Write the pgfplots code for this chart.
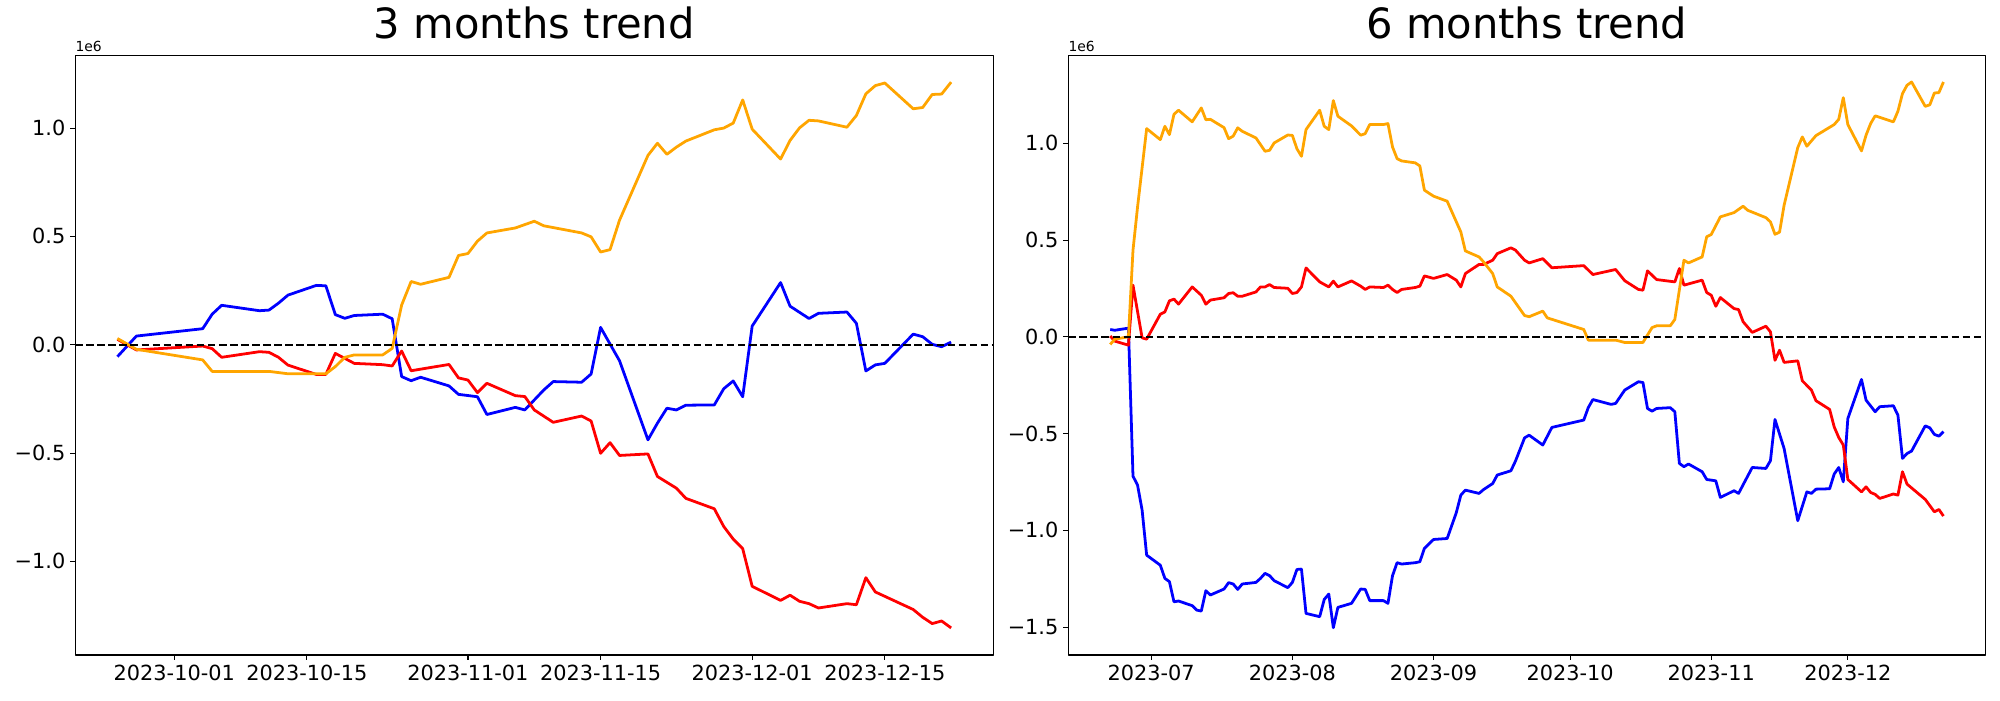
\documentclass[border=0pt]{standalone}
\usepackage{fontspec}
\setmainfont{DejaVu Sans}
\usepackage{pgfplots}
\pgfplotsset{compat=1.18}
\definecolor{mplorange}{RGB}{255,165,0}
\definecolor{mplblue}{RGB}{0,0,255}
\definecolor{mplred}{RGB}{255,0,0}
\pgfplotsset{
  mpl/.style={
    scale only axis, anchor=south west,
    height=431.8pt,
    tick align=outside, tick pos=left,
    major tick length=3.5pt,
    every tick/.style={black, line width=0.8pt},
    axis line style={line width=0.8pt},
    tick label style={font=\fontsize{15}{18}\selectfont},
    yticklabel style={inner sep=0pt, xshift=-3.5pt},
    xticklabel style={inner sep=0pt, yshift=-3.5pt},
    title style={font=\fontsize{30}{36}\selectfont, at={(0.5,1)}, anchor=base, yshift=6pt, inner sep=0pt},
    ytick={-1.5,-1,-0.5,0,0.5,1},
    yticklabels={−1.5,−1.0,−0.5,0.0,0.5,1.0},
    line join=round,
  },
  ser/.style={line width=2pt, line join=round},
  zero/.style={black, line width=1.5pt, dash pattern=on 5.55pt off 2.4pt},
}
\begin{document}
\begin{tikzpicture}
\useasboundingbox (0,0) rectangle (1440pt,504pt);
\begin{axis}[mpl, name=left, at={(54.2pt,32.4pt)}, width=660.96pt,
  xmin=-10.45, xmax=86.45, ymin=-1.432, ymax=1.336,
  xtick={0,14,31,45,61,75},
  xticklabels={2023-10-01,2023-10-15,2023-11-01,2023-11-15,2023-12-01,2023-12-15},
  title={3 months trend}]
\addplot[ser, mplblue] coordinates {(-6,-0.055) (-4,0.040) (3,0.074) (4,0.141) (5,0.182) (9,0.157) (10,0.160) (11,0.192) (12,0.229) (15,0.274) (16,0.272) (17,0.139) (18,0.122) (19,0.135) (22,0.141) (23,0.120) (24,-0.147) (25,-0.166) (26,-0.150) (29,-0.190) (30,-0.229) (32,-0.240) (33,-0.322) (36,-0.289) (37,-0.301) (39,-0.209) (40,-0.170) (43,-0.173) (44,-0.135) (45,0.080) (47,-0.074) (50,-0.439) (51,-0.362) (52,-0.293) (53,-0.301) (54,-0.279) (57,-0.278) (58,-0.203) (59,-0.167) (60,-0.240) (61,0.086) (64,0.287) (65,0.178) (67,0.121) (68,0.145) (71,0.151) (72,0.099) (73,-0.121) (74,-0.093) (75,-0.086) (78,0.049) (79,0.037) (80,0.002) (81,-0.009) (82,0.012)};
\addplot[ser, mplred] coordinates {(-6,0.025) (-4,-0.024) (3,-0.006) (4,-0.018) (5,-0.058) (9,-0.032) (10,-0.035) (11,-0.058) (12,-0.094) (15,-0.137) (16,-0.137) (17,-0.040) (18,-0.063) (19,-0.086) (22,-0.092) (23,-0.098) (24,-0.029) (25,-0.120) (29,-0.091) (30,-0.153) (31,-0.163) (32,-0.221) (33,-0.178) (36,-0.235) (37,-0.239) (38,-0.301) (40,-0.358) (43,-0.329) (44,-0.352) (45,-0.501) (46,-0.452) (47,-0.511) (50,-0.504) (51,-0.608) (53,-0.662) (54,-0.709) (57,-0.757) (58,-0.839) (59,-0.897) (60,-0.941) (61,-1.115) (64,-1.180) (65,-1.156) (66,-1.184) (67,-1.195) (68,-1.215) (71,-1.195) (72,-1.200) (73,-1.075) (74,-1.141) (78,-1.222) (79,-1.258) (80,-1.287) (81,-1.275) (82,-1.307)};
\addplot[ser, mplorange] coordinates {(-6,0.029) (-4,-0.021) (3,-0.070) (4,-0.123) (10,-0.123) (12,-0.134) (16,-0.134) (17,-0.101) (18,-0.058) (19,-0.047) (22,-0.047) (23,-0.017) (24,0.183) (25,0.292) (26,0.279) (29,0.311) (30,0.412) (31,0.421) (32,0.478) (33,0.516) (36,0.539) (38,0.570) (39,0.549) (43,0.516) (44,0.498) (45,0.428) (46,0.439) (47,0.575) (50,0.874) (51,0.930) (52,0.879) (53,0.912) (54,0.940) (57,0.992) (58,1.000) (59,1.023) (60,1.130) (61,0.995) (64,0.857) (65,0.943) (66,1.001) (67,1.036) (68,1.033) (71,1.004) (72,1.058) (73,1.158) (74,1.196) (75,1.208) (78,1.089) (79,1.095) (80,1.155) (81,1.157) (82,1.212)};
\addplot[zero] coordinates {(-10.45,0) (86.45,0)};
\end{axis}
\node[anchor=base west, inner sep=0pt, font=\fontsize{10}{12}\selectfont] at ([yshift=3pt]left.north west) {1e6};
\begin{axis}[mpl, name=right, at={(769.2pt,32.4pt)}, width=660.24pt,
  xmin=-18.2, xmax=183.2, ymin=-1.644, ymax=1.455,
  xtick={0,31,62,92,123,153},
  xticklabels={2023-07,2023-08,2023-09,2023-10,2023-11,2023-12},
  title={6 months trend}]
\addplot[ser, mplblue] coordinates {(-9,0.038) (-8,0.034) (-5,0.045) (-4,-0.720) (-3,-0.766) (-2,-0.895) (-1,-1.128) (2,-1.180) (3,-1.248) (4,-1.265) (5,-1.369) (6,-1.365) (9,-1.389) (10,-1.412) (11,-1.417) (12,-1.312) (13,-1.334) (16,-1.303) (17,-1.270) (18,-1.277) (19,-1.305) (20,-1.277) (23,-1.269) (24,-1.248) (25,-1.222) (26,-1.234) (27,-1.260) (30,-1.296) (31,-1.269) (32,-1.202) (33,-1.200) (34,-1.429) (37,-1.446) (38,-1.357) (39,-1.329) (40,-1.503) (41,-1.398) (44,-1.377) (46,-1.303) (47,-1.305) (48,-1.363) (51,-1.363) (52,-1.377) (53,-1.234) (54,-1.167) (55,-1.174) (58,-1.167) (59,-1.162) (60,-1.093) (62,-1.047) (65,-1.042) (67,-0.909) (68,-0.818) (69,-0.792) (72,-0.809) (73,-0.789) (75,-0.758) (76,-0.714) (79,-0.692) (80,-0.642) (82,-0.522) (83,-0.508) (86,-0.559) (88,-0.468) (95,-0.430) (96,-0.365) (97,-0.324) (101,-0.349) (102,-0.344) (104,-0.275) (107,-0.232) (108,-0.236) (109,-0.370) (110,-0.384) (111,-0.370) (114,-0.366) (115,-0.387) (116,-0.654) (117,-0.671) (118,-0.657) (121,-0.697) (122,-0.737) (124,-0.744) (125,-0.830) (128,-0.795) (129,-0.809) (132,-0.675) (135,-0.680) (136,-0.640) (137,-0.427) (139,-0.577) (142,-0.950) (144,-0.801) (145,-0.809) (146,-0.787) (149,-0.785) (150,-0.709) (151,-0.675) (152,-0.749) (153,-0.422) (156,-0.220) (157,-0.327) (159,-0.387) (160,-0.361) (163,-0.356) (164,-0.405) (165,-0.628) (166,-0.603) (167,-0.590) (170,-0.460) (171,-0.470) (172,-0.504) (173,-0.513) (174,-0.490)};
\addplot[ser, mplred] coordinates {(-9,0.004) (-8,-0.022) (-5,-0.043) (-4,0.267) (-2,-0.005) (-1,-0.012) (2,0.117) (3,0.129) (4,0.186) (5,0.195) (6,0.169) (9,0.258) (11,0.215) (12,0.169) (13,0.190) (16,0.202) (17,0.224) (18,0.228) (19,0.210) (20,0.210) (23,0.232) (24,0.258) (25,0.258) (26,0.270) (27,0.255) (30,0.251) (31,0.224) (32,0.229) (33,0.258) (34,0.356) (37,0.284) (39,0.258) (40,0.288) (41,0.258) (44,0.289) (46,0.262) (47,0.245) (48,0.258) (51,0.255) (52,0.267) (53,0.245) (54,0.229) (55,0.245) (58,0.255) (59,0.262) (60,0.315) (62,0.302) (65,0.322) (67,0.293) (68,0.258) (69,0.327) (72,0.374) (73,0.374) (75,0.396) (76,0.430) (79,0.460) (80,0.448) (82,0.396) (83,0.382) (86,0.404) (88,0.357) (95,0.368) (97,0.322) (102,0.348) (104,0.290) (107,0.245) (108,0.241) (109,0.341) (111,0.296) (115,0.284) (116,0.353) (117,0.267) (121,0.293) (122,0.229) (123,0.215) (124,0.158) (125,0.203) (128,0.146) (129,0.141) (130,0.078) (132,0.023) (135,0.055) (136,0.026) (137,-0.121) (138,-0.069) (139,-0.132) (142,-0.124) (143,-0.227) (145,-0.275) (146,-0.330) (149,-0.375) (150,-0.465) (151,-0.520) (152,-0.559) (153,-0.737) (156,-0.801) (157,-0.775) (158,-0.804) (159,-0.814) (160,-0.835) (163,-0.812) (164,-0.818) (165,-0.697) (166,-0.761) (170,-0.840) (172,-0.904) (173,-0.892) (174,-0.926)};
\addplot[ser, mplorange] coordinates {(-9,-0.039) (-8,-0.012) (-5,0.000) (-4,0.448) (-3,0.671) (-1,1.076) (2,1.019) (3,1.088) (4,1.045) (5,1.150) (6,1.171) (9,1.111) (11,1.183) (12,1.122) (13,1.124) (16,1.081) (17,1.024) (18,1.037) (19,1.080) (20,1.062) (23,1.028) (25,0.959) (26,0.964) (27,1.002) (30,1.043) (31,1.041) (32,0.972) (33,0.933) (34,1.071) (37,1.171) (38,1.088) (39,1.071) (40,1.221) (41,1.140) (44,1.090) (46,1.042) (47,1.050) (48,1.097) (51,1.097) (52,1.102) (53,0.981) (54,0.921) (55,0.909) (58,0.899) (59,0.883) (60,0.758) (62,0.727) (65,0.701) (68,0.542) (69,0.444) (72,0.413) (73,0.387) (75,0.327) (76,0.258) (79,0.210) (82,0.110) (83,0.104) (86,0.133) (87,0.098) (95,0.038) (96,-0.017) (102,-0.017) (104,-0.029) (108,-0.029) (110,0.048) (111,0.057) (114,0.057) (115,0.090) (117,0.396) (118,0.382) (121,0.413) (122,0.517) (123,0.529) (125,0.620) (128,0.642) (130,0.675) (131,0.654) (135,0.616) (136,0.594) (137,0.530) (138,0.541) (139,0.680) (142,0.978) (143,1.033) (144,0.985) (146,1.040) (150,1.097) (151,1.124) (152,1.236) (153,1.097) (156,0.961) (157,1.042) (158,1.102) (159,1.142) (163,1.111) (164,1.166) (165,1.257) (166,1.300) (167,1.317) (170,1.191) (171,1.199) (172,1.260) (173,1.262) (174,1.317)};
\addplot[zero] coordinates {(-18.2,0) (183.2,0)};
\end{axis}
\node[anchor=base west, inner sep=0pt, font=\fontsize{10}{12}\selectfont] at ([yshift=3pt]right.north west) {1e6};
\end{tikzpicture}
\end{document}
